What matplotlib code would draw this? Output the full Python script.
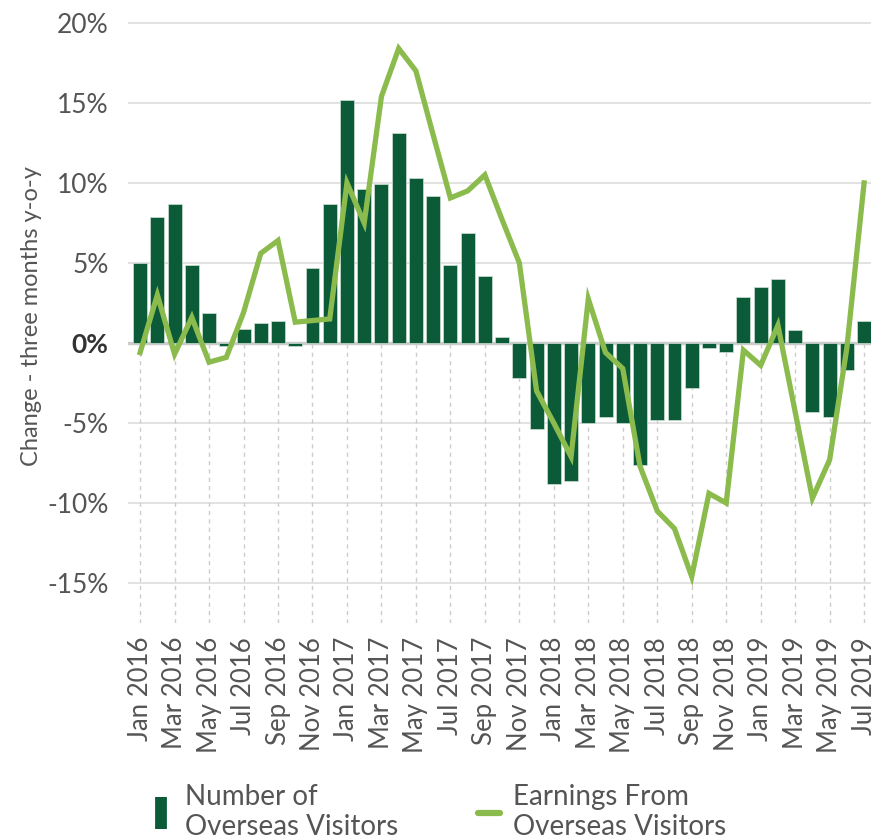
import numpy as np
import matplotlib
matplotlib.use('Agg')
import matplotlib.pyplot as plt
from matplotlib.lines import Line2D
from matplotlib.ticker import FuncFormatter

months = ['Jan', 'Feb', 'Mar', 'Apr', 'May', 'Jun', 'Jul', 'Aug', 'Sep', 'Oct', 'Nov', 'Dec']
dates = [f'{m} {y}' for y in (2016, 2017, 2018, 2019) for m in months][:43]

# change in number of overseas visitors, 3 months y-o-y (%)
visitors = [5.0, 7.9, 8.7, 4.9, 1.9, -0.2, 0.9, 1.25, 1.4, -0.2, 4.7, 8.7,
            15.2, 9.6, 9.95, 13.1, 10.3, 9.2, 4.9, 6.9, 4.2, 0.4, -2.2, -5.4,
            -8.8, -8.6, -5.0, -4.6, -5.0, -7.6, -4.8, -4.8, -2.8, -0.3, -0.55, 2.9,
            3.5, 4.0, 0.8, -4.3, -4.6, -1.7, 1.4]
# change in earnings from overseas visitors (%)
earnings = [-0.6, 3.0, -0.7, 1.6, -1.2, -0.9, 1.9, 5.6, 6.4, 1.3, 1.4, 1.5,
            10.0, 7.5, 15.4, 18.4, 17.0, 13.0, 9.06, 9.5, 10.5, 7.7, 5.0, -3.0,
            -5.0, -7.1, 2.75, -0.6, -1.6, -7.7, -10.5, -11.6, -14.6, -9.4, -10.0, -0.45,
            -1.4, 1.1, -4.3, -9.7, -7.3, -0.3, 10.0]

bar_col = '#0b5b39'
line_col = '#8bbb4c'
txt_col = '#555555'
font = 'Lato'
wt = 'normal'

fig = plt.figure(figsize=(8.71, 8.39), dpi=100)
ax = fig.add_axes([0.147, 0.2574, 0.853, 0.7306])

x = np.arange(len(dates))
ylo, yhi = -17.5, 20.8

for v in [-15, -10, -5, 5, 10, 15, 20]:
    ax.axhline(v, color='#dddddd', lw=1.2, zorder=0)
ax.vlines(x[::2], ylo, 0, colors='#cccccc', linestyles=(0, (3, 3)), lw=1, zorder=0)

ax.bar(x, visitors, width=0.81, color=bar_col, edgecolor='#cfe0d4', linewidth=0.5, zorder=2)
ax.axhline(0, color='#cccccc', lw=2.5, zorder=1)
ax.plot(x, earnings, color=line_col, lw=3.8, solid_joinstyle='miter', zorder=3)

ax.set_xlim(-0.7, 42.4)
ax.set_ylim(ylo, yhi)
ax.set_yticks([-15, -10, -5, 0, 5, 10, 15, 20])
ax.yaxis.set_major_formatter(FuncFormatter(lambda v, p: f'{int(v)}%'))
ax.set_xticks(x[::2])
ax.set_xticklabels(dates[::2], rotation=90)

for s in ax.spines.values():
    s.set_visible(False)
ax.tick_params(length=0, colors=txt_col)
ax.tick_params(axis='y', labelsize=19, pad=14)
ax.tick_params(axis='x', labelsize=18.5, pad=10)
for lab in ax.get_xticklabels() + ax.get_yticklabels():
    lab.set_family(font)
    lab.set_fontweight(wt)
for lab in ax.get_yticklabels():
    if lab.get_text() == '0%':
        lab.set_fontweight('bold')
        lab.set_color('#333333')

ax.set_ylabel('Change - three months y-o-y', fontsize=17, color=txt_col,
              family=font, fontweight=wt, labelpad=4)

prop = {'family': font, 'size': 20, 'weight': wt}
leg1 = fig.legend([Line2D([], [], marker='|', ms=23, mew=8.5, ls='none', color=bar_col)],
                  ['Number of\nOverseas Visitors'],
                  loc='upper left', bbox_to_anchor=(150 / 871, 0.066), frameon=False,
                  borderpad=0, borderaxespad=0, handlelength=0.8, handletextpad=0.45,
                  prop=prop, labelcolor=txt_col)
leg2 = fig.legend([Line2D([], [], color=line_col, lw=4.5, solid_capstyle='round')],
                  ['Earnings From\nOverseas Visitors'],
                  loc='upper left', bbox_to_anchor=(478 / 871, 0.066), frameon=False,
                  borderpad=0, borderaxespad=0, handlelength=0.8, handletextpad=0.45,
                  prop=prop, labelcolor=txt_col)

fig.savefig('out.png', dpi=100)
